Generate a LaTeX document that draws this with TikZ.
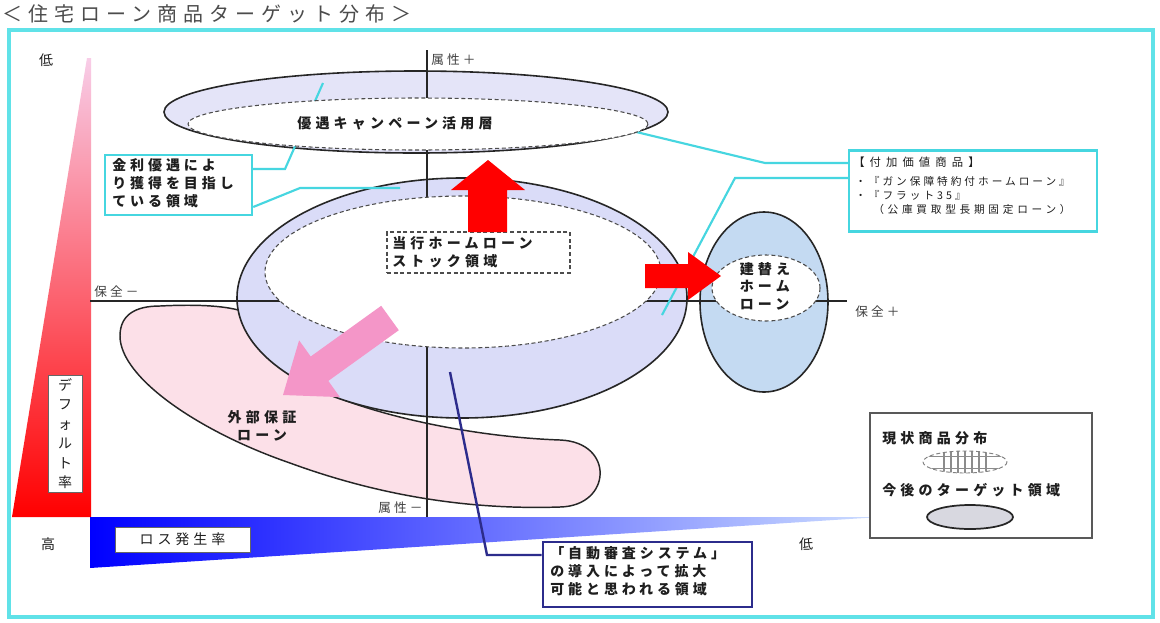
\documentclass[tikz,border=0pt]{standalone}
\usepackage{fontspec}
\setmainfont{Noto Sans CJK JP}
\usetikzlibrary{shapes.geometric}
\definecolor{lav}{RGB}{228,228,248}
\definecolor{lavb}{RGB}{218,220,248}
\definecolor{rblue}{RGB}{196,218,242}
\definecolor{blobpink}{RGB}{252,224,232}
\definecolor{cyanl}{RGB}{70,214,224}
\definecolor{navyl}{RGB}{44,44,140}
\definecolor{parrow}{RGB}{244,150,200}
\definecolor{framec}{RGB}{96,226,232}
\definecolor{txt}{RGB}{30,30,30}
\newcommand{\jpfont}[2]{\fontsize{#1}{#2}\selectfont\addfontfeature{LetterSpace=28}}
\newcommand{\jpbold}[2]{\fontsize{#1}{#2}\selectfont\bfseries\addfontfeature{LetterSpace=30}}
\begin{document}
\begin{tikzpicture}[x=0.75pt,y=-0.75pt,
  jp/.style={font=\jpfont{10.5}{13.5}, text=txt, inner sep=0pt},
  jpb/.style={font=\jpbold{10.5}{13.5}, text=txt, inner sep=0pt},
  small/.style={font=\fontsize{8}{10.5}\selectfont\addfontfeature{LetterSpace=28}, text=txt, inner sep=0pt},
  axl/.style={font=\fontsize{9.5}{11}\selectfont\addfontfeature{LetterSpace=25}, text=black!75, inner sep=0pt},
  outer/.style={draw=black!85, line width=1.2pt},
  inner/.style={draw=black!70, densely dashed, line width=0.8pt, fill=white},
  lead/.style={draw=cyanl, line width=1.6pt},
  cbox/.style={draw=cyanl, line width=1.8pt, fill=white, inner sep=0pt},
  redar/.style={fill=red, draw=none},
]
\useasboundingbox (0,0) rectangle (1160,622);
\fill[white] (0,0) rectangle (1160,622);

% title
\node[anchor=west, font=\fontsize{15}{18}\selectfont\addfontfeature{LetterSpace=30}, text=black!70, inner sep=0pt] (title) at (2,14) {＜住宅ローン商品ターゲット分布＞};

% frame
\draw[framec, line width=2.3pt] (9,30) rectangle (1153,617);

% default-rate triangle
\shade[top color={rgb,255:red,248;green,205;blue,232}, middle color={rgb,255:red,242;green,100;blue,145}, bottom color=red]
  (87,58) -- (91,58) -- (91,517) -- (12,517) -- cycle;
% loss-rate triangle
\shade[left color={rgb,255:red,0;green,0;blue,255}, middle color={rgb,255:red,60;green,100;blue,250}, right color={rgb,255:red,205;green,222;blue,255}]
  (90,517) -- (880,517) -- (90,568) -- cycle;

\node[draw=black!60, line width=0.6pt, fill=white, minimum width={34*0.75pt}, minimum height={117*0.75pt}, inner sep=0pt] (dbox) at (65,433.5) {};
\node[jp, align=center, font=\fontsize{10.5}{14.6}\selectfont] (dtext) at (dbox.center) {デ\\フ\\ォ\\ル\\ト\\率};
\node[draw=black!60, line width=0.6pt, fill=white, minimum width={135*0.75pt}, minimum height={25*0.75pt}, inner sep=0pt] (lbox) at (182.5,539.5) {};
\node[jp] (ltext) at (lbox.center) {ロス発生率};

\node[jp] (low1) at (46,60) {低};
\node[jp] (high) at (48,544) {高};
\node[jp] (low2) at (806,544) {低};

% pink blob (external guarantee loan)
\path[fill=blobpink, draw=black!85, line width=1.1pt]
  (160,306) .. controls (200,304) and (228,306) .. (245,312)
  -- (295,376) .. controls (335,405) and (450,436) .. (560,440)
  .. controls (615,442) and (612,506) .. (560,507)
  .. controls (470,510) and (380,496) .. (290,463)
  .. controls (200,432) and (120,378) .. (120,336)
  .. controls (120,315) and (135,306) .. (160,306) -- cycle;

% outer ellipses
\path[outer, fill=lav] (416,112) ellipse [x radius=252, y radius=41];
\path[outer, fill=lavb] (462,298) ellipse [x radius=225, y radius=120];
\path[outer, fill=rblue] (764,302) ellipse [x radius=64, y radius=90];

% axes
\coordinate (vtop) at (427,50);
\coordinate (vbot) at (427,517);
\coordinate (hleft) at (90,301);
\coordinate (hright) at (847,301);
\draw[black!85, line width=1.1pt] (vtop) -- (vbot);
\draw[black!85, line width=1.1pt] (hleft) -- (hright);

% callout boxes
\node[cbox, minimum width={147*0.75pt}, minimum height={60*0.75pt}] (kinri) at (178.5,185) {};
\node[jp, align=left, anchor=north west, font=\jpfont{10.5}{13.5}\bfseries] (kinritext) at (112,158) {金利優遇によ\\り獲得を目指し\\ている領域};
\node[cbox, minimum width={248*0.75pt}, minimum height={81*0.75pt}] (fuka) at (973,191) {};
\node[small, anchor=west, font=\fontsize{8.5}{10.5}\selectfont\addfontfeature{LetterSpace=45}] (fuka1) at (853,162) {【付加価値商品】};
\node[small, anchor=west] (fuka2) at (855,181) {・『ガン保障特約付ホームローン』};
\node[small, anchor=west] (fuka3) at (855,195) {・『フラット35』};
\node[small, anchor=west, font=\fontsize{8}{10.5}\selectfont\addfontfeature{LetterSpace=35}] (fuka4) at (873,209) {（公庫買取型長期固定ローン）};

% leader lines
\coordinate (l1s) at (0,169);
\coordinate (l1m) at (285,169);
\coordinate (l1e) at (323,83);
\draw[lead] (kinri.east |- l1s) -- (l1m) -- (l1e);
\coordinate (l2s) at (0,207);
\coordinate (l2m) at (300,188);
\coordinate (l2e) at (400,188);
\draw[lead] (kinri.east |- l2s) -- (l2m) -- (l2e);
\coordinate (l3s) at (0,163);
\coordinate (l3m) at (765,163);
\coordinate (l3e) at (628,130);
\draw[lead] (fuka.west |- l3s) -- (l3m) -- (l3e);
\coordinate (l4s) at (0,178);
\coordinate (l4m) at (735,178);
\coordinate (l4e) at (662,315);
\draw[lead] (fuka.west |- l4s) -- (l4m) -- (l4e);

% inner ellipses
\path[inner] (418,124) ellipse [x radius=230, y radius=26];
\path[inner] (463,272) ellipse [x radius=198, y radius=76];
\path[inner] (766,288) ellipse [x radius=54, y radius=33];

% labels in ellipses
\node[jpb] (yugu) at (395,123) {優遇キャンペーン活用層};
\node[draw=black!70, densely dashed, line width=0.8pt, fill=white, minimum width={183*0.75pt}, minimum height={41*0.75pt}, inner sep=0pt] (stockbox) at (478.5,252.5) {};
\node[jpb, align=left, anchor=north west] (stock) at (392,236) {当行ホームローン\\ストック領域};
\node[jpb, align=left, font=\jpbold{10.5}{13.2}] (tatekae) at (765,286) {建替え\\ホーム\\ローン};
\node[jpb, align=center, font=\jpbold{10.5}{13}] (gaibu) at (262,426) {外部保証\\ローン};

% axis labels
\node[axl, anchor=west] (zp) at (431,60) {属性＋};
\node[axl, anchor=west] (zm) at (378,508) {属性－};
\node[axl, anchor=west] (hm) at (94,292) {保全－};
\node[axl, anchor=west] (hp) at (855,312) {保全＋};

% arrows
\path[redar] (468,232) -- (468,190) -- (451,190) -- (488,160) -- (525,190) -- (507,190) -- (507,232) -- cycle;
\path[redar] (645,264) -- (688,264) -- (688,252) -- (721,276) -- (688,300) -- (688,288) -- (645,288) -- cycle;
\path[fill=parrow] (381.2,305.8) -- (310.7,356.5) -- (299.1,340.3) -- (283,395) -- (339.9,397.1) -- (328.3,380.9) -- (398.8,330.2) -- cycle;

% automatic screening callout
\node[draw=navyl, line width=2pt, fill=white, minimum width={209*0.75pt}, minimum height={65*0.75pt}, inner sep=0pt] (jido) at (647.5,574.5) {};
\node[jp, align=left, anchor=north west, font=\jpfont{10.5}{13.5}\bfseries] (jidotext) at (550,546) {「自動審査システム」\\の導入によって拡大\\可能と思われる領域};
\coordinate (n1) at (450,372);
\coordinate (n2) at (487,555);
\draw[navyl, line width=1.8pt] (n1) -- (n2) -- (jido.west |- n2);

% legend
\node[draw=black!65, line width=2.2pt, fill=white, minimum width={222*0.75pt}, minimum height={125*0.75pt}, inner sep=0pt] (legend) at (981,475.5) {};
\node[jpb, anchor=west] (leg1) at (882,438) {現状商品分布};
\node[jpb, anchor=west] (leg2) at (882,490) {今後のターゲット領域};
\begin{scope}
  \clip (965,462) ellipse [x radius=42, y radius=11];
  \fill[white] (920,448) rectangle (1010,476);
  \foreach \xx in {944,951,...,988} \draw[black!45, line width=0.9pt] (\xx,450) -- (\xx,474);
  \draw[black!45, line width=0.6pt] (920,456) -- (1010,456);
  \draw[black!45, line width=0.6pt] (920,468) -- (1010,468);
\end{scope}
\draw[black!50, densely dashed, line width=0.7pt] (965,462) ellipse [x radius=42, y radius=11];
\draw[black!85, line width=1.3pt, fill={rgb,255:red,216;green,216;blue,224}] (970,517) ellipse [x radius=43, y radius=12];
\end{tikzpicture}
\end{document}
